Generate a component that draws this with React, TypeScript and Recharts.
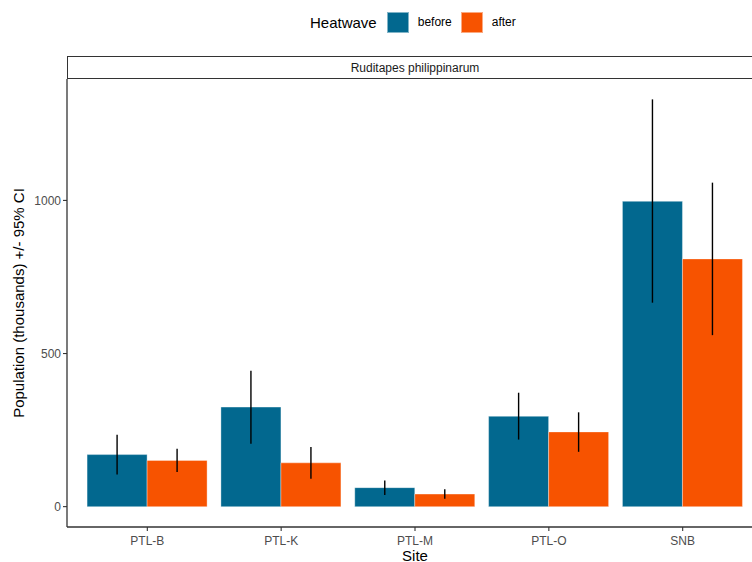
import React from 'react';
import { BarChart, Bar, XAxis, YAxis, ErrorBar } from 'recharts';

const sites = ['PTL-B', 'PTL-K', 'PTL-M', 'PTL-O', 'SNB'];
const beforeMean = [170, 325, 62, 295, 997];
const beforeLow = [105, 205, 38, 219, 666];
const beforeHigh = [235, 444, 85, 372, 1330];
const afterMean = [151, 143, 41, 244, 809];
const afterLow = [113, 91, 26, 179, 560];
const afterHigh = [189, 195, 57, 308, 1058];
const yTicks = [0, 500, 1000];
const legendTitle = 'Heatwave';
const seriesNames = ['before', 'after'];
const panelTitle = 'Ruditapes philippinarum';

const BLUE = '#02688F';
const ORANGE = '#F75300';
const FONT = '"Liberation Sans", Arial, sans-serif';

const data = sites.map((s, i) => ({
  site: s,
  before: beforeMean[i],
  beforeErr: [beforeMean[i] - beforeLow[i], beforeHigh[i] - beforeMean[i]],
  after: afterMean[i],
  afterErr: [afterMean[i] - afterLow[i], afterHigh[i] - afterMean[i]],
}));

const LegendBox = () => (
  <div
    style={{
      position: 'absolute',
      left: 310,
      top: 0,
      height: 44,
      display: 'flex',
      alignItems: 'center',
      fontFamily: FONT,
      whiteSpace: 'nowrap',
    }}
  >
    <span style={{ fontSize: 15, color: '#000', marginRight: 10 }}>{legendTitle}</span>
    {seriesNames.map((n, i) => (
      <span key={n} style={{ display: 'flex', alignItems: 'center' }}>
        <span
          style={{
            display: 'inline-block',
            width: 22,
            height: 21,
            boxSizing: 'border-box',
            background: i === 0 ? BLUE : ORANGE,
            border: '1px solid rgba(255,255,255,0.5)',
            marginRight: 9,
          }}
        />
        <span style={{ fontSize: 12, color: '#000', marginRight: i === 0 ? 9 : 0 }}>{n}</span>
      </span>
    ))}
  </div>
);

const YTitle = (props: any) => {
  const vb = props.viewBox || { x: 0, y: 79, width: 60, height: 448 };
  const cy = vb.y + vb.height / 2;
  return (
    <text
      x={18}
      y={cy}
      transform={`rotate(-90 18 ${cy})`}
      textAnchor="middle"
      dominantBaseline="central"
      fill="#000"
      fontSize={15}
      fontFamily={FONT}
    >
      Population (thousands) +/- 95% CI
    </text>
  );
};

const XTitle = (props: any) => {
  const vb = props.viewBox || { x: 67, y: 527, width: 696, height: 35 };
  return (
    <text x={vb.x + vb.width / 2} y={vb.y + 34} textAnchor="middle" fill="#000" fontSize={15} fontFamily={FONT}>
      Site
    </text>
  );
};

export default function App() {
  return (
    <div
      style={{
        position: 'fixed',
        left: 0,
        top: 0,
        width: 752,
        height: 562,
        overflow: 'hidden',
        background: '#fff',
      }}
    >
      <LegendBox />
      <div
        style={{
          position: 'absolute',
          left: 67,
          top: 56,
          width: 696,
          height: 23,
          boxSizing: 'border-box',
          border: '1.3px solid #333',
          fontFamily: FONT,
          fontSize: 12,
          color: '#1a1a1a',
          display: 'flex',
          alignItems: 'center',
          justifyContent: 'center',
        }}
      >
        {panelTitle}
      </div>
      <div style={{ position: 'absolute', left: 0, top: 0 }}>
        <BarChart
          width={780}
          height={562}
          data={data}
          margin={{ top: 79, right: 17, bottom: 0, left: 7 }}
          barCategoryGap="5%"
          barGap={0}
        >
          <XAxis
            dataKey="site"
            height={35}
            padding={{ left: 13.4, right: 13.4 }}
            tickSize={4}
            tickMargin={5}
            axisLine={{ stroke: '#333', strokeWidth: 1.3 }}
            tickLine={{ stroke: '#333', strokeWidth: 1.1 }}
            tick={{ fill: '#4d4d4d', fontSize: 12, fontFamily: FONT }}
            label={<XTitle />}
          />
          <YAxis
            width={60}
            domain={[-66.5, 1396.5]}
            ticks={yTicks}
            allowDataOverflow
            tickSize={4}
            tickMargin={2}
            axisLine={{ stroke: '#333', strokeWidth: 1.3 }}
            tickLine={{ stroke: '#333', strokeWidth: 1.1 }}
            tick={{ fill: '#4d4d4d', fontSize: 12, fontFamily: FONT }}
            label={<YTitle />}
          />
          <Bar dataKey="before" fill={BLUE} stroke="rgba(255,255,255,0.35)" strokeWidth={1} isAnimationActive={false}>
            <ErrorBar dataKey="beforeErr" width={0} stroke="#000" strokeWidth={1.4} isAnimationActive={false} />
          </Bar>
          <Bar dataKey="after" fill={ORANGE} stroke="rgba(255,255,255,0.35)" strokeWidth={1} isAnimationActive={false}>
            <ErrorBar dataKey="afterErr" width={0} stroke="#000" strokeWidth={1.4} isAnimationActive={false} />
          </Bar>
        </BarChart>
      </div>
    </div>
  );
}
